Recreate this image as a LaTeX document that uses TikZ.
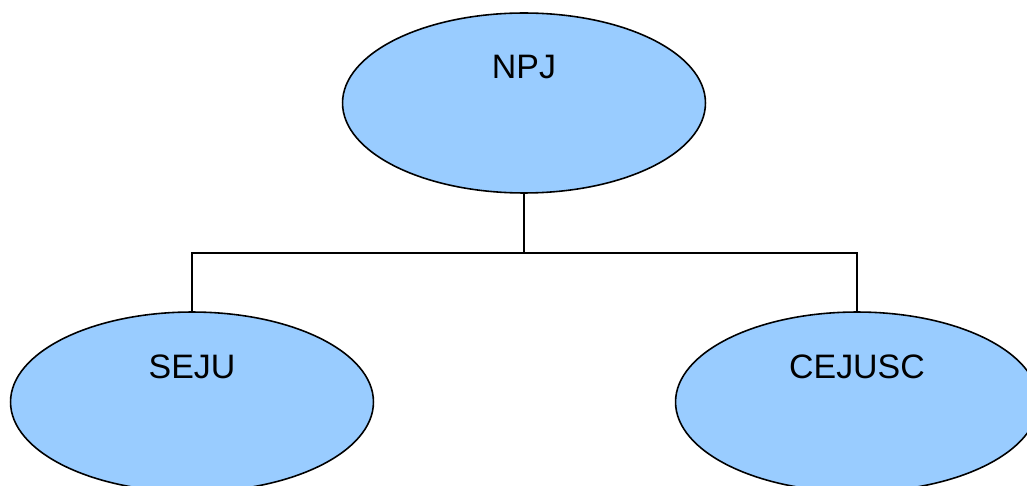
\documentclass[tikz,border=0pt]{standalone}
\usepackage{fontspec}
\setmainfont{Liberation Sans}
\usetikzlibrary{shapes.geometric}
\definecolor{unitblue}{RGB}{153,204,255}

\begin{document}
\begin{tikzpicture}[x=0.02cm,y=-0.02cm]
\tikzstyle{every node}=[font=\fontsize{19.3}{23}\selectfont]
\tikzstyle{unit}=[ellipse,draw,line width=0.9pt,fill=unitblue,minimum width=7.26cm,minimum height=3.6cm,inner sep=0]
\tikzstyle{link}=[line width=0.9pt]
\useasboundingbox (0,0) rectangle (1027,486);
\clip (0,0) rectangle (1027,486);
\node[unit,label={[yshift=0.72cm]center:NPJ}] (npj) at (524,103) {};
\node[unit,label={[yshift=0.7cm]center:SEJU}] (seju) at (192,402) {};
\node[unit,label={[yshift=0.7cm]center:CEJUSC}] (cejusc) at (857,402) {};
\coordinate (fork) at (524,253);
\draw[link] (npj.south) -- (fork);
\draw[link] (fork) -| (seju.north);
\draw[link] (fork) -| (cejusc.north);
\end{tikzpicture}
\end{document}
